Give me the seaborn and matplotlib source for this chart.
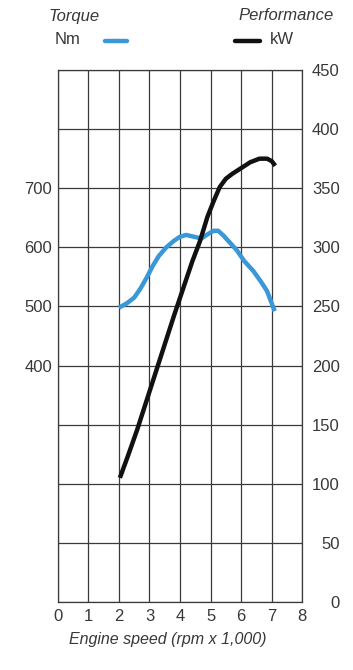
import matplotlib
matplotlib.use("Agg")
import matplotlib.pyplot as plt
from matplotlib.lines import Line2D
import pandas as pd
import seaborn as sns

# engine speed (rpm x 1,000) and readings taken off the curves
rpm_torque = [2.0, 2.25, 2.5, 2.7, 2.9, 3.1, 3.3, 3.55, 3.8, 4.0, 4.2, 4.45, 4.7, 4.9, 5.1, 5.25,
              5.42, 5.65, 5.86, 6.1, 6.4, 6.65, 6.85, 7.1]
torque_nm = [498, 505, 515, 530, 548, 568, 585, 600, 611, 618, 621, 618, 615, 622, 628, 628,
             620, 607, 595, 577, 560, 542, 526, 492]

rpm_power = [2.03, 2.3, 2.6, 2.9, 3.2, 3.5, 3.8, 4.1, 4.4, 4.65, 4.9, 5.1, 5.3, 5.5, 5.7,
             6.0, 6.3, 6.6, 6.85, 7.0, 7.12]
power_kw = [105, 124, 146, 170, 194, 218, 242, 265, 288, 305, 326, 339, 351, 358, 362,
            367, 372, 375, 375, 373, 369]

x_ticks = list(range(0, 9))
torque_ticks = list(range(0, 901, 100))
torque_labels = ["", "", "", "", "400", "500", "600", "700", "", ""]
power_ticks = list(range(0, 451, 50))

sns.set_theme(style="white")
plt.rcParams["font.family"] = ["Liberation Sans", "DejaVu Sans"]
txt = "#383838"
fs = 12

df_t = pd.DataFrame({"rpm": rpm_torque, "torque": torque_nm})
df_p = pd.DataFrame({"rpm": rpm_power, "power": power_kw})

fig = plt.figure(figsize=(3.53, 6.70), dpi=100)
ax = fig.add_axes([0.164, 0.1015, 0.692, 0.794])

sns.lineplot(data=df_t, x="rpm", y="torque", ax=ax, color="#3a97d8", lw=3.2,
             sort=False, solid_capstyle="butt")
ax.set_xlim(0, 8)
ax.set_ylim(0, 900)
ax.set_xticks(x_ticks)
ax.set_yticks(torque_ticks)
ax.set_yticklabels(torque_labels)
ax.grid(True, color="#3a3a3a", lw=0.9)
ax.set_axisbelow(True)
ax.tick_params(length=0, labelsize=fs, colors=txt)
ax.tick_params(axis="y", pad=4)
ax.tick_params(axis="x", pad=5)
ax.set_xlabel("Engine speed (rpm x 1,000)", fontstyle="italic", fontsize=11.5, color=txt)
ax.xaxis.set_label_coords(0.449, -0.0714)
ax.xaxis.label.set_va("center")
ax.set_ylabel("")
for s in ax.spines.values():
    s.set_color("#3a3a3a")
    s.set_linewidth(0.9)

ax2 = ax.twinx()
sns.lineplot(data=df_p, x="rpm", y="power", ax=ax2, color="#111111", lw=3.2,
             sort=False, solid_capstyle="butt")
ax2.set_ylim(0, 450)
ax2.set_yticks(power_ticks)
ax2.set_ylabel("")
ax2.grid(False)
ax2.tick_params(length=0, labelsize=fs, colors=txt, pad=27)
for lab in ax2.get_yticklabels():
    lab.set_horizontalalignment("right")
for s in ax2.spines.values():
    s.set_visible(False)

# legend header
fig.text(48 / 353, 1 - 16 / 670, "Torque", fontstyle="italic", fontsize=fs, color=txt, va="center", ha="left")
fig.text(55 / 353, 1 - 40 / 670, "Nm", fontsize=fs, color=txt, va="center", ha="left")
fig.add_artist(Line2D([105 / 353, 127 / 353], [1 - 41 / 670] * 2, color="#3a97d8", lw=3.2))
fig.text(334 / 353, 1 - 16 / 670, "Performance", fontstyle="italic", fontsize=fs, color=txt, va="center", ha="right")
fig.text(270 / 353, 1 - 40 / 670, "kW", fontsize=fs, color=txt, va="center", ha="left")
fig.add_artist(Line2D([235 / 353, 260 / 353], [1 - 41 / 670] * 2, color="#111111", lw=3.2))

fig.savefig("out.png", dpi=100, facecolor="white")
